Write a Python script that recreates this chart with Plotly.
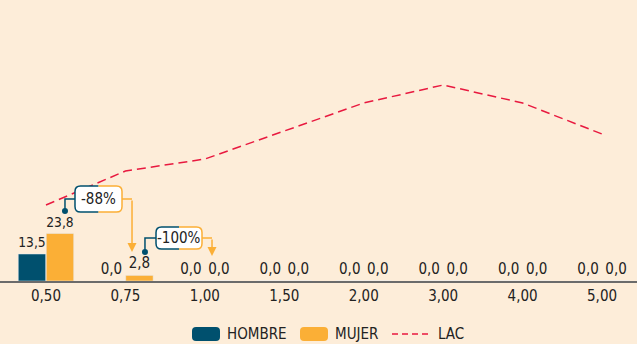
import plotly.graph_objects as go

categorias = ["0,50", "0,75", "1,00", "1,50", "2,00", "3,00", "4,00", "5,00"]
hombre = [13.5, 0.0, 0.0, 0.0, 0.0, 0.0, 0.0, 0.0]
mujer = [23.8, 2.8, 0.0, 0.0, 0.0, 0.0, 0.0, 0.0]
lac = [38, 55, 61, 75, 89, 98, 89, 73.5]

AZUL = "#00506E"
NARANJA = "#FBAF36"
ROJO = "#E8193F"
FONDO = "#FDEDD9"
FUENTE = "DejaVu Sans Condensed, sans-serif"

x = list(range(len(categorias)))


def fmt(v):
    return f"{v:.1f}".replace(".", ",")


def redondeado(x0, x1, y0, y1, rx, ry):
    # rectangulo con esquinas redondeadas como path svg
    return (f"M{x0 + rx},{y1} L{x1 - rx},{y1} Q{x1},{y1} {x1},{y1 - ry} "
            f"L{x1},{y0 + ry} Q{x1},{y0} {x1 - rx},{y0} L{x0 + rx},{y0} "
            f"Q{x0},{y0} {x0},{y0 + ry} L{x0},{y1 - ry} Q{x0},{y1} {x0 + rx},{y1} Z")


fig = go.Figure()

fig.add_trace(go.Bar(
    x=x, y=hombre, name="HOMBRE", marker_color=AZUL,
    text=[fmt(v) for v in hombre], textposition="outside",
    textfont=dict(size=15, color="#222"), cliponaxis=False,
))
fig.add_trace(go.Bar(
    x=x, y=mujer, name="MUJER", marker_color=NARANJA,
    text=[fmt(v) for v in mujer], textposition="outside",
    textfont=dict(size=15, color="#222"), cliponaxis=False,
))
fig.add_trace(go.Scatter(
    x=x, y=lac, name="LAC", mode="lines",
    line=dict(color=ROJO, width=1.5, dash="9px,5px"),
))

shapes = []
annotations = []

# callouts: caja (x0, x1, y0, y1), conector izquierdo (x, y punto), flecha (x, y punta)
callouts = [
    ("-88%", (0.365, 0.957, 34.5, 47.5), (0.239, 35), (1.083, 14.5)),
    ("-100%", (1.385, 1.964, 16, 27), (1.246, 14.5), (2.09, 12.5)),
]
rx, ry = 0.07, 2.8
for texto, (bx0, bx1, by0, by1), (lx, ly), (ax_, ay_) in callouts:
    cy = (by0 + by1) / 2
    cx = (bx0 + bx1) / 2
    # conector izquierdo
    shapes.append(dict(type="path", xref="x", yref="y",
                       path=f"M{bx0},{cy} L{lx},{cy} L{lx},{ly}",
                       line=dict(color=AZUL, width=1.5)))
    shapes.append(dict(type="circle", xref="x", yref="y",
                       xsizemode="pixel", ysizemode="pixel",
                       xanchor=lx, yanchor=ly, x0=-3, x1=3, y0=-3, y1=3,
                       fillcolor=AZUL, line=dict(width=0)))
    # conector derecho
    shapes.append(dict(type="path", xref="x", yref="y",
                       path=f"M{bx1},{cy} L{ax_},{cy}",
                       line=dict(color=NARANJA, width=1.5)))
    annotations.append(dict(x=ax_, y=ay_, ax=ax_, ay=cy, xref="x", yref="y",
                            axref="x", ayref="y", text="", showarrow=True,
                            arrowhead=2, arrowsize=1.2, arrowwidth=1.5,
                            arrowcolor=NARANJA))
    # caja
    shapes.append(dict(type="path", xref="x", yref="y",
                       path=redondeado(bx0, bx1, by0, by1, rx, ry),
                       fillcolor="#FFFFFF", line=dict(width=0)))
    izq = (f"M{cx},{by1} L{bx0 + rx},{by1} Q{bx0},{by1} {bx0},{by1 - ry} "
           f"L{bx0},{by0 + ry} Q{bx0},{by0} {bx0 + rx},{by0} L{cx},{by0}")
    der = (f"M{cx},{by1} L{bx1 - rx},{by1} Q{bx1},{by1} {bx1},{by1 - ry} "
           f"L{bx1},{by0 + ry} Q{bx1},{by0} {bx1 - rx},{by0} L{cx},{by0}")
    shapes.append(dict(type="path", xref="x", yref="y", path=izq,
                       line=dict(color=AZUL, width=1.5)))
    shapes.append(dict(type="path", xref="x", yref="y", path=der,
                       line=dict(color=NARANJA, width=1.5)))
    annotations.append(dict(x=cx, y=cy, xref="x", yref="y", text=texto,
                            showarrow=False,
                            font=dict(size=15, color="#222", family=FUENTE)))

# leyenda manual
W, H = 637, 344
PLOT_TOP, PLOT_BOT = 1, 281


def px(xp, yp):
    return xp / W, (PLOT_BOT - yp) / (PLOT_BOT - PLOT_TOP)


for (x0, x1, color) in [(192, 220, AZUL), (300, 328, NARANJA)]:
    a, b = px(x0, 341)
    c, d = px(x1, 327)
    shapes.append(dict(type="path", xref="paper", yref="paper",
                       path=redondeado(a, c, b, d, 4 / W, 4 / (PLOT_BOT - PLOT_TOP)),
                       fillcolor=color, line=dict(width=0)))
a, b = px(392, 334)
c, _ = px(430, 334)
shapes.append(dict(type="line", xref="paper", yref="paper",
                   x0=a, x1=c, y0=b, y1=b,
                   line=dict(color=ROJO, width=1.5, dash="6px,4px")))
for nombre, xl in [("HOMBRE", 225), ("MUJER", 333), ("LAC", 436)]:
    a, b = px(xl, 334)
    annotations.append(dict(x=a, y=b, xref="paper", yref="paper",
                            text=nombre, showarrow=False, xanchor="left",
                            yanchor="middle",
                            font=dict(size=15, color="#222", family=FUENTE)))

fig.update_layout(
    width=W, height=H,
    margin=dict(l=0, r=0, t=PLOT_TOP, b=H - PLOT_BOT),
    paper_bgcolor=FONDO, plot_bgcolor=FONDO,
    barmode="group", bargap=0.295, bargroupgap=0.02,
    showlegend=False,
    font=dict(family=FUENTE, size=15, color="#222"),
    shapes=shapes, annotations=annotations,
    xaxis=dict(range=[-0.579, 7.44], tickvals=x, ticktext=categorias,
               showline=True, linecolor="#6b6b6b", linewidth=2,
               showgrid=False, zeroline=False, ticks="",
               tickfont=dict(size=15, color="#222")),
    yaxis=dict(range=[0, 140], visible=False, showgrid=False, zeroline=False),
)

fig.write_html("out.html", config={"displayModeBar": False},
               post_script="document.body.style.margin='0';")
